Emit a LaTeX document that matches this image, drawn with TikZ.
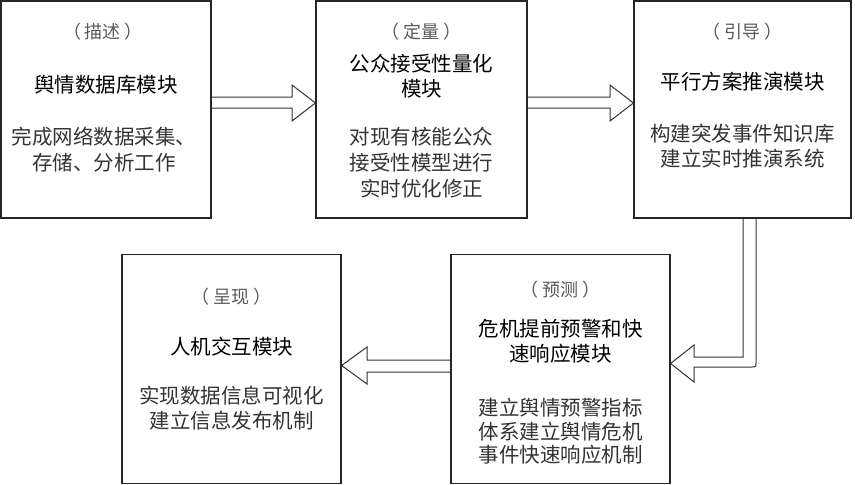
\documentclass[tikz,border=0pt]{standalone}
\usepackage{fontspec}
\setmainfont{Noto Sans CJK SC}
\usepackage{tikz}

\newcommand\paren[1]{（\hspace{4pt}#1\hspace{4pt}）}

\begin{document}
\begin{tikzpicture}[x=1pt,y=-1pt,
  box/.style={draw=black!85,line width=1.2pt,inner sep=0pt},
  lbl/.style={font=\fontsize{18}{22}\selectfont,text=black!65},
  ttl/.style={font=\fontsize{20.5}{25}\selectfont,align=center},
  txt/.style={font=\fontsize{20.5}{25.5}\selectfont,align=center,text=black!80},
  blockarrow/.style={draw=black!80,line width=1pt,line join=miter}]
\useasboundingbox (0,0) rectangle (855,485);

  \draw (106,109.5) node[box,minimum width=210pt,minimum height=217pt] (miaoshu) {};
  \draw (421.5,109.5) node[box,minimum width=211pt,minimum height=217pt] (dingliang) {};
  \draw (742.5,109.5) node[box,minimum width=217pt,minimum height=217pt] (yindao) {};
  \draw (560.5,369) node[box,minimum width=219pt,minimum height=229pt] (yuce) {};
  \draw (231.5,369) node[box,minimum width=219pt,minimum height=229pt] (chengxian) {};

  \draw (103,32) node[lbl] (miaoshu-l) {\paren{描述}};
  \draw (106,85) node[ttl] (miaoshu-t) {舆情数据库模块};
  \draw (104,149.5) node[txt] (miaoshu-m) {完成网络数据采集、\\存储、分析工作};

  \draw (421.5,32) node[lbl] (dingliang-l) {\paren{定量}};
  \draw (421.5,76) node[ttl] (dingliang-t) {公众接受性量化\\模块};
  \draw (421.5,162.5) node[txt,font=\fontsize{20.5}{26}\selectfont] (dingliang-m) {对现有核能公众\\接受性模型进行\\实时优化修正};

  \draw (742.5,32) node[lbl] (yindao-l) {\paren{引导}};
  \draw (742.5,82) node[ttl] (yindao-t) {平行方案推演模块};
  \draw (742.5,146) node[txt] (yindao-m) {构建突发事件知识库\\建立实时推演系统};

  \draw (560.5,290) node[lbl] (yuce-l) {\paren{预测}};
  \draw (560.5,341) node[ttl] (yuce-t) {危机提前预警和快\\速响应模块};
  \draw (560.5,431.5) node[txt,font=\fontsize{20.5}{23.5}\selectfont] (yuce-m) {建立舆情预警指标\\体系建立舆情危机\\事件快速响应机制};

  \draw (231.5,297) node[lbl] (chengxian-l) {\paren{呈现}};
  \draw (231.5,347) node[ttl] (chengxian-t) {人机交互模块};
  \draw (231.5,408) node[txt] (chengxian-m) {实现数据信息可视化\\建立信息发布机制};

  \draw[blockarrow] (miaoshu.east |- 0,97) -- (292,97) -- (292,85) -- (dingliang.west |- 0,103)
     -- (292,121) -- (292,108) -- (miaoshu.east |- 0,108);
  \draw[blockarrow] (dingliang.east |- 0,97) -- (610,97) -- (610,85) -- (yindao.west |- 0,103)
     -- (610,121) -- (610,108) -- (dingliang.east |- 0,108);
  \draw[blockarrow] (yindao.south -| 743,0) -- (743,357) -- (694,357) -- (694,345) -- (yuce.east |- 0,363.5)
     -- (694,382) -- (694,367) -- (752,367) .. controls (756,367) .. (756,363) -- (yindao.south -| 756,0);
  \draw[blockarrow] (yuce.west |- 0,360) -- (367,360) -- (367,347) -- (chengxian.east |- 0,365.5)
     -- (367,384) -- (367,372) -- (yuce.west |- 0,372);

\end{tikzpicture}
\end{document}
